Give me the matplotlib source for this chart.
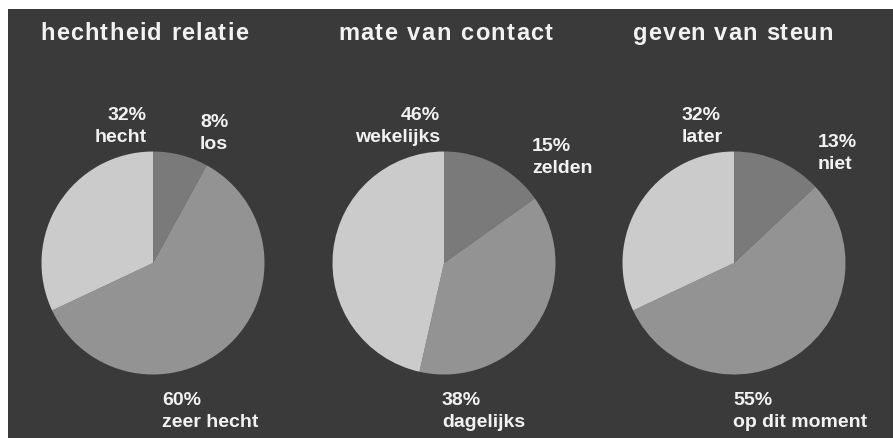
import matplotlib
matplotlib.use("Agg")
import matplotlib.pyplot as plt
from matplotlib.patches import Rectangle
from matplotlib.font_manager import FontProperties

plt.rcParams['font.family'] = ['Liberation Sans', 'DejaVu Sans']

W, H = 893, 438
titles = ["hechtheid relatie", "mate van contact", "geven van steun"]
categories = [["los", "zeer hecht", "hecht"],
              ["zelden", "dagelijks", "wekelijks"],
              ["niet", "op dit moment", "later"]]
values = [[8, 60, 32],
          [15, 38, 46],
          [13, 55, 32]]
slice_colors = ["#7a7a7a", "#939393", "#cbcbcb"]
bg = "#3a3a3a"
fg = "#f2f2f2"

# layout (pixels)
centers_x = [153, 444, 734]
center_y = 263
radius = 111.5
title_pos = [(40, 40, 248), (338, 40, 553), (633, 40, 833)]
label_pos = [
    [(200, 127, 'left'), (162, 405, 'left'), (147, 120, 'right')],
    [(532, 151, 'left'), (442, 405, 'left'), (440, 120, 'right')],
    [(818, 147, 'left'), (733, 405, 'left'), (682, 120, 'left')],
]
line_gap = 22
title_size = 17
label_size = 14

fig = plt.figure(figsize=(W / 100, H / 100), dpi=100, facecolor="white")
fig.patches.append(Rectangle((8 / W, 0), 1 - 8 / W, 1 - 9 / H,
                             transform=fig.transFigure, facecolor=bg,
                             edgecolor="none", zorder=-5))

def fx(x):
    return x / W

def fy(y):
    return 1 - y / H

renderer = fig.canvas.get_renderer()
tprop = FontProperties(family=['Liberation Sans', 'DejaVu Sans'],
                       weight='bold', size=title_size)

def spaced_text(text, x0, x1, y):
    full_w, _, _ = renderer.get_text_width_height_descent(text, tprop, ismath=False)
    full_w *= 1.0
    spacing = (x1 - x0 - full_w) / max(len(text) - 1, 1)
    for k, ch in enumerate(text):
        if ch == ' ':
            continue
        pw = 0.0
        if k > 0:
            pw, _, _ = renderer.get_text_width_height_descent(text[:k], tprop, ismath=False)
        fig.text(fx(x0 + pw + k * spacing), fy(y), ch, color=fg,
                 fontproperties=tprop, ha='left', va='baseline')

for i in range(3):
    ax = fig.add_axes([fx(centers_x[i] - radius), fy(center_y + radius),
                       2 * radius / W, 2 * radius / H])
    ax.pie(values[i], colors=slice_colors, startangle=90, counterclock=False,
           radius=1, wedgeprops=dict(linewidth=0))
    ax.set_xlim(-1, 1)
    ax.set_ylim(-1, 1)
    ax.set_aspect('auto')
    ax.axis('off')
    ax.patch.set_visible(False)

    tx, ty, tx1 = title_pos[i]
    spaced_text(titles[i], tx, tx1, ty)

    for j in range(3):
        x, y, ha = label_pos[i][j]
        fig.text(fx(x), fy(y), f"{values[i][j]}%", color=fg, fontsize=label_size,
                 fontweight='bold', ha=ha, va='baseline')
        fig.text(fx(x), fy(y + line_gap), categories[i][j], color=fg,
                 fontsize=label_size, fontweight='bold', ha=ha, va='baseline')

fig.savefig("out.png", dpi=100, facecolor="white")
